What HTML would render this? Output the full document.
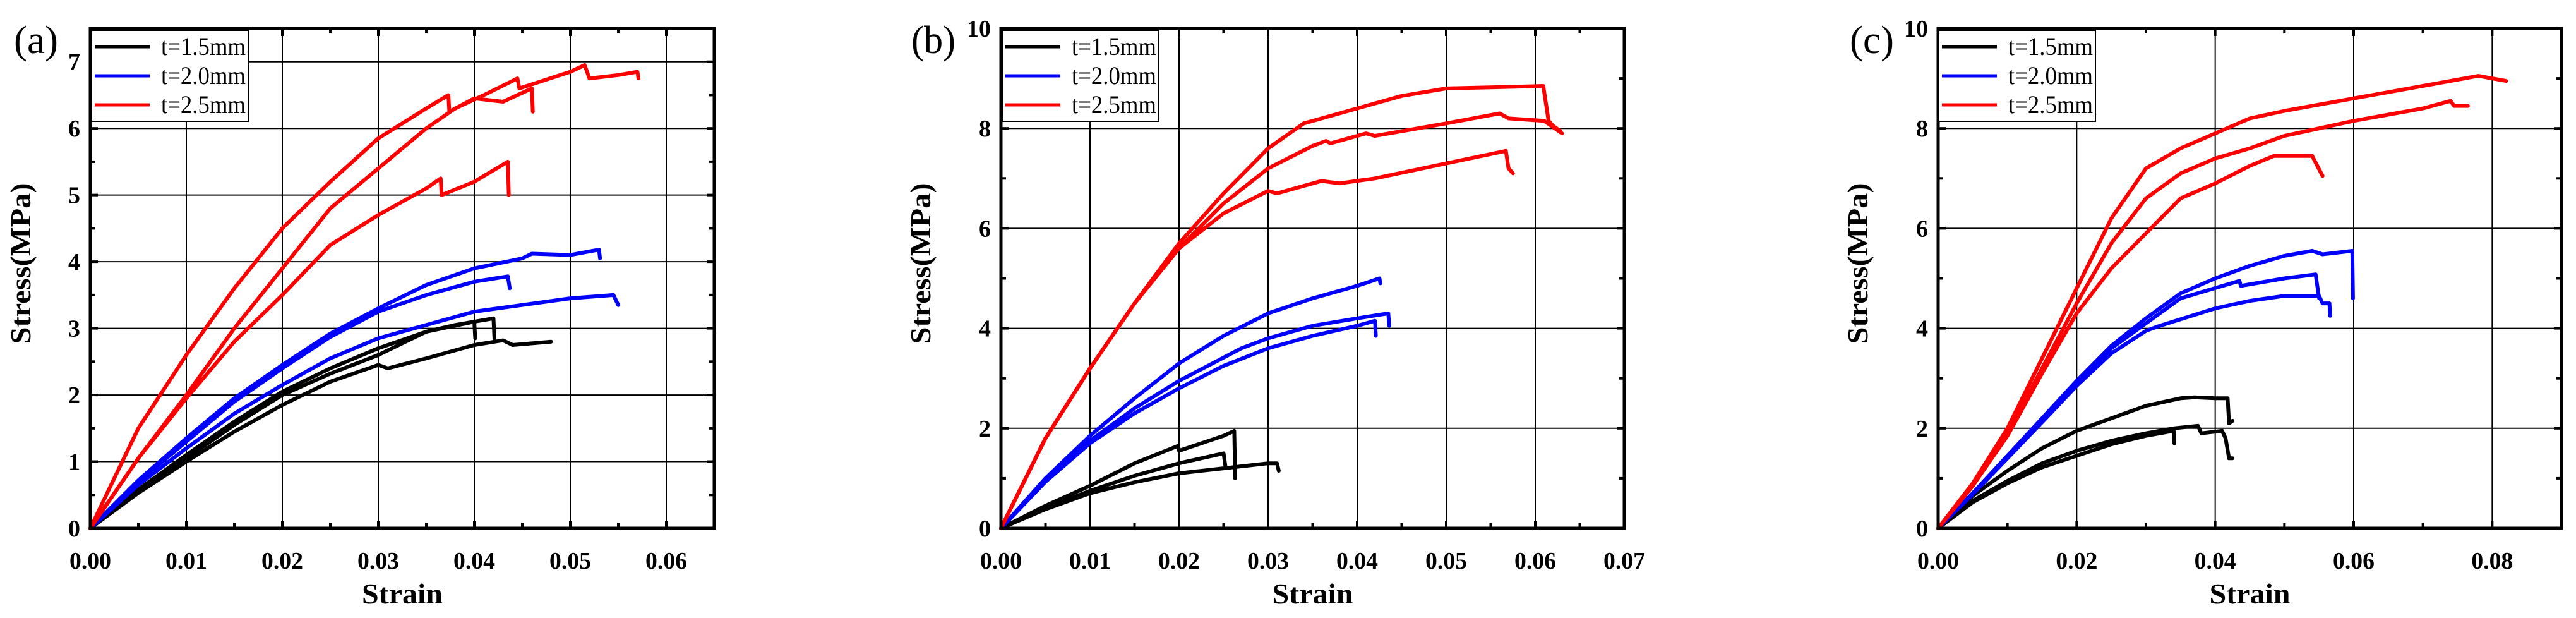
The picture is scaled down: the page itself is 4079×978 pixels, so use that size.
<!DOCTYPE html>
<html><head><meta charset="utf-8"><style>
html,body{margin:0;padding:0;background:#fff;}
svg{display:block;}
text{font-family:"Liberation Serif",serif;}
</style></head><body>
<svg id="chart" width="4079" height="978" viewBox="0 0 4079 978" xmlns="http://www.w3.org/2000/svg"></svg>
<script>
// ---------- data ----------
const seriesNames = ["t=1.5mm","t=2.0mm","t=2.5mm"];
const seriesColors = ["#000000","#0000ff","#ff0000"];

// panel (a)
const aBlack1 = [[0,0],[0.005,0.58],[0.01,1.1],[0.015,1.6],[0.02,2.05],[0.025,2.4],[0.03,2.7],[0.035,2.95],[0.038,3.05],[0.04,3.1],[0.0401,2.85]];
const aBlack2 = [[0,0],[0.005,0.55],[0.01,1.05],[0.015,1.55],[0.02,2.0],[0.025,2.32],[0.03,2.6],[0.035,2.95],[0.04,3.1],[0.042,3.15],[0.0421,2.85]];
const aBlack3 = [[0,0],[0.005,0.53],[0.01,1.0],[0.015,1.45],[0.02,1.85],[0.025,2.2],[0.03,2.45],[0.031,2.4],[0.035,2.55],[0.04,2.75],[0.043,2.82],[0.044,2.75],[0.048,2.8]];
const aBlue1 = [[0,0],[0.005,0.72],[0.01,1.35],[0.015,1.95],[0.02,2.45],[0.025,2.92],[0.03,3.3],[0.035,3.65],[0.04,3.9],[0.045,4.05],[0.046,4.12],[0.05,4.1],[0.053,4.18],[0.0531,4.05]];
const aBlue2 = [[0,0],[0.005,0.7],[0.01,1.3],[0.015,1.9],[0.02,2.4],[0.025,2.87],[0.03,3.25],[0.035,3.5],[0.04,3.7],[0.0435,3.78],[0.0437,3.6]];
const aBlue3 = [[0,0],[0.005,0.65],[0.01,1.2],[0.015,1.72],[0.02,2.15],[0.025,2.55],[0.03,2.85],[0.035,3.05],[0.04,3.25],[0.045,3.35],[0.05,3.45],[0.0545,3.5],[0.055,3.35]];
const aRed1 = [[0,0],[0.005,1.5],[0.01,2.6],[0.015,3.6],[0.02,4.5],[0.025,5.2],[0.03,5.85],[0.035,6.3],[0.0373,6.5],[0.0374,6.25],[0.04,6.45],[0.043,6.4],[0.046,6.6],[0.0461,6.25]];
const aRed2 = [[0,0],[0.005,1.05],[0.01,2.0],[0.015,3.0],[0.02,3.9],[0.025,4.8],[0.03,5.4],[0.035,6.0],[0.038,6.3],[0.041,6.5],[0.0445,6.75],[0.0447,6.6],[0.05,6.85],[0.0515,6.95],[0.052,6.75],[0.055,6.8],[0.057,6.85],[0.0571,6.75]];
const aRed3 = [[0,0],[0.005,1.05],[0.01,1.95],[0.015,2.8],[0.02,3.5],[0.025,4.25],[0.03,4.7],[0.035,5.1],[0.0365,5.25],[0.0366,5.0],[0.04,5.2],[0.0435,5.5],[0.0436,5.0]];

// panel (b)
const bBlack1 = [[0,0],[0.005,0.45],[0.01,0.85],[0.015,1.3],[0.0199,1.65],[0.02,1.55],[0.025,1.85],[0.0262,1.95],[0.0263,1.0]];
const bBlack2 = [[0,0],[0.005,0.4],[0.01,0.75],[0.015,1.05],[0.02,1.3],[0.025,1.5],[0.0252,1.25]];
const bBlack3 = [[0,0],[0.005,0.38],[0.01,0.7],[0.015,0.92],[0.02,1.1],[0.025,1.2],[0.03,1.3],[0.031,1.3],[0.0312,1.15]];
const bBlue1 = [[0,0],[0.005,1.0],[0.01,1.85],[0.015,2.6],[0.02,3.3],[0.025,3.85],[0.03,4.3],[0.035,4.6],[0.04,4.85],[0.0425,5.0],[0.0426,4.9]];
const bBlue2 = [[0,0],[0.005,0.95],[0.01,1.75],[0.015,2.4],[0.02,2.95],[0.027,3.6],[0.03,3.8],[0.035,4.05],[0.04,4.2],[0.0435,4.3],[0.0436,4.05]];
const bBlue3 = [[0,0],[0.005,0.93],[0.01,1.7],[0.015,2.3],[0.02,2.8],[0.025,3.25],[0.03,3.6],[0.035,3.85],[0.04,4.05],[0.042,4.15],[0.0421,3.85]];
const bRed1 = [[0,0],[0.005,1.8],[0.01,3.2],[0.015,4.5],[0.02,5.7],[0.025,6.7],[0.03,7.6],[0.034,8.1],[0.04,8.4],[0.045,8.65],[0.05,8.8],[0.055,8.82],[0.0609,8.85],[0.0615,8.15],[0.062,8.05],[0.0628,7.95]];
const bRed2 = [[0,0],[0.005,1.8],[0.01,3.2],[0.015,4.5],[0.02,5.6],[0.025,6.5],[0.03,7.2],[0.035,7.65],[0.0365,7.75],[0.037,7.7],[0.041,7.9],[0.042,7.85],[0.05,8.1],[0.056,8.3],[0.057,8.2],[0.061,8.15],[0.063,7.9]];
const bRed3 = [[0,0],[0.005,1.8],[0.01,3.2],[0.015,4.5],[0.02,5.6],[0.025,6.3],[0.03,6.75],[0.031,6.7],[0.036,6.95],[0.038,6.9],[0.042,7.0],[0.05,7.3],[0.0567,7.55],[0.057,7.2],[0.0575,7.1]];

// panel (c)
const cBlack1 = [[0,0],[0.005,0.65],[0.01,1.15],[0.015,1.6],[0.02,1.95],[0.025,2.2],[0.03,2.45],[0.035,2.6],[0.037,2.62],[0.04,2.6],[0.0418,2.6],[0.042,2.1],[0.0425,2.15]];
const cBlack2 = [[0,0],[0.005,0.55],[0.01,0.95],[0.015,1.3],[0.02,1.55],[0.025,1.75],[0.03,1.9],[0.034,2.0],[0.0375,2.05],[0.038,1.9],[0.041,1.95],[0.0415,1.8],[0.042,1.4],[0.0425,1.4]];
const cBlack3 = [[0,0],[0.005,0.52],[0.01,0.9],[0.015,1.22],[0.02,1.45],[0.025,1.68],[0.03,1.85],[0.034,1.95],[0.0341,1.7]];
const cBlue1 = [[0,0],[0.005,0.7],[0.01,1.45],[0.015,2.2],[0.02,2.95],[0.025,3.65],[0.03,4.2],[0.035,4.7],[0.04,5.0],[0.045,5.25],[0.05,5.45],[0.054,5.55],[0.0555,5.48],[0.0598,5.55],[0.0599,4.6]];
const cBlue2 = [[0,0],[0.005,0.7],[0.01,1.45],[0.015,2.18],[0.02,2.9],[0.025,3.6],[0.03,4.1],[0.035,4.6],[0.0435,4.95],[0.0437,4.85],[0.05,5.0],[0.0545,5.08],[0.055,4.6]];
const cBlue3 = [[0,0],[0.005,0.68],[0.01,1.4],[0.015,2.12],[0.02,2.85],[0.025,3.5],[0.03,3.95],[0.032,4.05],[0.04,4.4],[0.045,4.55],[0.05,4.65],[0.055,4.65],[0.0555,4.5],[0.0565,4.5],[0.0566,4.25]];
const cRed1 = [[0,0],[0.005,0.9],[0.01,2.0],[0.015,3.4],[0.02,4.8],[0.025,6.2],[0.03,7.2],[0.035,7.6],[0.04,7.9],[0.045,8.2],[0.05,8.35],[0.06,8.6],[0.07,8.85],[0.078,9.05],[0.082,8.95]];
const cRed2 = [[0,0],[0.005,0.85],[0.01,1.9],[0.015,3.2],[0.02,4.5],[0.025,5.7],[0.03,6.6],[0.035,7.1],[0.04,7.4],[0.045,7.6],[0.05,7.85],[0.06,8.15],[0.07,8.4],[0.074,8.55],[0.0745,8.45],[0.0765,8.45]];
const cRed3 = [[0,0],[0.005,0.85],[0.01,1.85],[0.015,3.1],[0.02,4.3],[0.025,5.2],[0.03,5.9],[0.035,6.6],[0.04,6.9],[0.045,7.25],[0.0485,7.45],[0.054,7.45],[0.0555,7.05]];

const aXTicks = ["0.00","0.01","0.02","0.03","0.04","0.05","0.06"];
const aYTicks = ["0","1","2","3","4","5","6","7"];
const bXTicks = ["0.00","0.01","0.02","0.03","0.04","0.05","0.06","0.07"];
const bYTicks = ["0","2","4","6","8","10"];
const cXTicks = ["0.00","0.02","0.04","0.06","0.08"];
const cYTicks = ["0","2","4","6","8","10"];

// ---------- drawing ----------
const NS = "http://www.w3.org/2000/svg";
const svg = document.getElementById("chart");
function mk(tag, attrs, parent){
  const e = document.createElementNS(NS, tag);
  for (const k in attrs) e.setAttribute(k, attrs[k]);
  (parent||svg).appendChild(e);
  return e;
}

const panels = [
  {id:"a", label:"(a)", L:143, R:1131, T:45, B:836, xMax:0.065, yMax:7.5, xMinor:0.005, yMinor:0.5,
   xTicks:aXTicks, yTicks:aYTicks, labelX:22, ylabX:48, legX:145,
   curves:[[aBlack1,0],[aBlack2,0],[aBlack3,0],[aBlue1,1],[aBlue2,1],[aBlue3,1],[aRed1,2],[aRed2,2],[aRed3,2]]},
  {id:"b", label:"(b)", L:1585, R:2572, T:45, B:836, xMax:0.07, yMax:10, xMinor:0.005, yMinor:1,
   xTicks:bXTicks, yTicks:bYTicks, labelX:1443, ylabX:1473, legX:1587,
   curves:[[bBlack1,0],[bBlack2,0],[bBlack3,0],[bBlue1,1],[bBlue2,1],[bBlue3,1],[bRed1,2],[bRed2,2],[bRed3,2]]},
  {id:"c", label:"(c)", L:3069, R:4056, T:45, B:836, xMax:0.09, yMax:10, xMinor:0.01, yMinor:1,
   xTicks:cXTicks, yTicks:cYTicks, labelX:2929, ylabX:2957, legX:3070,
   curves:[[cBlack1,0],[cBlack2,0],[cBlack3,0],[cBlue1,1],[cBlue2,1],[cBlue3,1],[cRed1,2],[cRed2,2],[cRed3,2]]}
];

panels.forEach(p=>{
  const g = mk("g",{});
  
  
  const sx = v => p.L + v/p.xMax*(p.R-p.L);
  const sy = v => p.B - v/p.yMax*(p.B-p.T);

  p.xTicks.forEach(t=>{
    const v = parseFloat(t), x = sx(v);
    if (v>0) {
      const gl = mk("line",{x1:x,x2:x,y1:p.T,y2:p.B,stroke:"#000","stroke-width":2},g);
      
      
    }
    const tl = mk("text",{x:x,y:p.B+64,"text-anchor":"middle","font-size":38,"font-weight":"bold",textLength:66,lengthAdjust:"spacingAndGlyphs"},g);
    tl.textContent = t;
    
    
  });
  p.yTicks.forEach(t=>{
    const v = parseFloat(t), y = sy(v);
    if (v>0 && v<p.yMax) {
      const gl = mk("line",{x1:p.L,x2:p.R,y1:y,y2:y,stroke:"#000","stroke-width":2},g);
      
      
    }
    const tl = mk("text",{x:p.L-16,y:y+13,"text-anchor":"end","font-size":38,"font-weight":"bold"},g);
    tl.textContent = t;
    
    
  });
  for (let i=0; i*p.xMinor <= p.xMax+1e-9; i++){
    const v=i*p.xMinor, x=sx(v);
    const major = Math.abs(v/ (p.xMinor*2) - Math.round(v/(p.xMinor*2)))<1e-6;
    const len = major?12:8;
    mk("line",{x1:x,x2:x,y1:p.B,y2:p.B-len,stroke:"#000","stroke-width":4},g);
    mk("line",{x1:x,x2:x,y1:p.T,y2:p.T+len,stroke:"#000","stroke-width":4},g);
  }
  for (let i=0; i*p.yMinor <= p.yMax+1e-9; i++){
    const v=i*p.yMinor, y=sy(v);
    const major = Math.abs(v/(p.yMinor*2) - Math.round(v/(p.yMinor*2)))<1e-6;
    const len = major?12:8;
    mk("line",{x1:p.L,x2:p.L+len,y1:y,y2:y,stroke:"#000","stroke-width":4},g);
    mk("line",{x1:p.R,x2:p.R-len,y1:y,y2:y,stroke:"#000","stroke-width":4},g);
  }
  p.curves.forEach((c,ci)=>{
    const pts = c[0].map(d=>sx(d[0]).toFixed(1)+","+sy(d[1]).toFixed(1)).join(" ");
    const pl = mk("polyline",{points:pts,fill:"none",stroke:seriesColors[c[1]],"stroke-width":6,"stroke-linejoin":"round","stroke-linecap":"round"},g);
    
    
  });
  const fr = mk("rect",{x:p.L,y:p.T,width:p.R-p.L,height:p.B-p.T,fill:"none",stroke:"#000","stroke-width":5},g);
  
  

  const lg = mk("g",{},g);
  
  
  mk("rect",{x:p.legX,y:48,width:248,height:144,fill:"#fff",stroke:"#000","stroke-width":2},lg);
  seriesNames.forEach((n,i)=>{
    const y = 74 + i*46;
    const e = mk("g",{},lg);
    
    
    mk("line",{x1:p.legX+5,x2:p.legX+92,y1:y,y2:y,stroke:seriesColors[i],"stroke-width":5},e);
    const t = mk("text",{x:p.legX+110,y:y+13,"font-size":40,textLength:134,lengthAdjust:"spacingAndGlyphs"},e);
    t.textContent = n;
  });

  const pl = mk("text",{x:p.labelX,y:84,"font-size":62,textLength:70,lengthAdjust:"spacingAndGlyphs"},g);
  pl.textContent = p.label;
  
  
  const xt = mk("text",{x:(p.L+p.R)/2,y:955,"text-anchor":"middle","font-size":46,"font-weight":"bold",textLength:128,lengthAdjust:"spacingAndGlyphs"},g);
  xt.textContent = "Strain";
  
  
  const yt = mk("text",{x:0,y:0,"text-anchor":"middle","font-size":46,"font-weight":"bold",textLength:255,lengthAdjust:"spacingAndGlyphs",transform:"translate("+p.ylabX+",417) rotate(-90)"},g);
  yt.textContent = "Stress(MPa)";
  
  
});
</script>
</body></html>
